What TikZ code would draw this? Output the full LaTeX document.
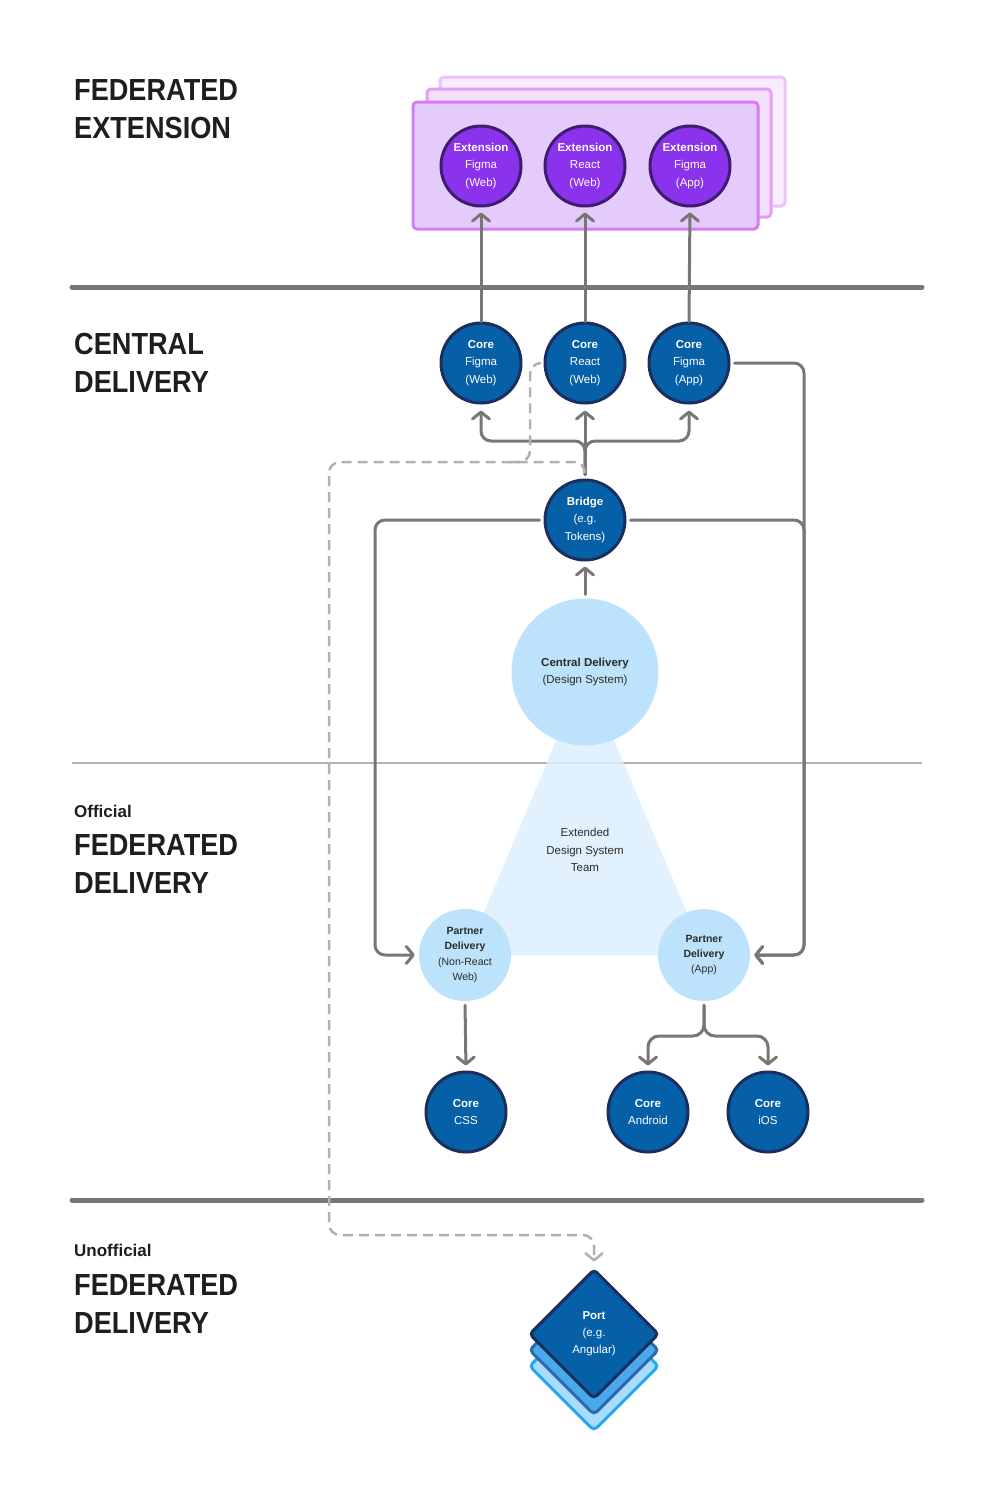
\documentclass[tikz,border=0pt]{standalone}
\usepackage{fontspec}
\setmainfont{Liberation Sans}
\newfontfamily\headfont[FakeStretch=0.89]{Liberation Sans}
\usetikzlibrary{arrows.meta,shapes.geometric,calc}
\definecolor{lgray}{HTML}{777777}
\definecolor{septhin}{HTML}{B3B3B3}
\definecolor{dgray}{HTML}{B0B0B0}
\definecolor{headc}{HTML}{1E1E1E}
\definecolor{txtdark}{HTML}{2B2B2B}
\definecolor{coreblue}{HTML}{0660A8}
\definecolor{corenavy}{HTML}{1B2F5E}
\definecolor{extfill}{HTML}{8B32EC}
\definecolor{extdraw}{HTML}{3F1D6E}
\definecolor{pfrontF}{HTML}{E5CBFC}
\definecolor{pfrontD}{HTML}{D67DF1}
\definecolor{pmidF}{HTML}{F0E0FD}
\definecolor{pmidD}{HTML}{E49CF7}
\definecolor{pbackF}{HTML}{F7EDFE}
\definecolor{pbackD}{HTML}{ECC0FA}
\definecolor{lblue}{HTML}{BDE3FC}
\definecolor{tri}{HTML}{DCEFFE}
\definecolor{midF}{HTML}{4AA8EC}
\definecolor{midD}{HTML}{2C6AA8}
\definecolor{backF}{HTML}{A8DBFD}
\definecolor{backD}{HTML}{20A8F0}
\begin{document}
\begin{tikzpicture}[x=1pt,y=-1pt,
  bighead/.style={anchor=base west, inner sep=0pt, text=headc, font=\headfont\bfseries\fontsize{30.5}{38}\selectfont},
  smallhead/.style={anchor=base west, inner sep=0pt, text=headc, font=\bfseries\fontsize{17}{20}\selectfont},
  septhick/.style={draw=lgray, line width=5pt, line cap=round},
  sepline/.style={draw=septhin, line width=2pt},
  line/.style={draw=lgray, line width=3pt, line cap=round, line join=round},
  arr/.style={line, -{Straight Barb[length=7pt,width=17pt,round]}},
  dashline/.style={draw=dgray, line width=2.5pt, dash pattern=on 10pt off 6pt, rounded corners=11pt},
  core/.style={circle, minimum size=80pt, inner sep=0pt, fill=coreblue, draw=corenavy, line width=3pt, text=white, align=center, font=\fontsize{11.5}{17.5}\selectfont},
  ext/.style={core, fill=extfill, draw=extdraw},
  lcirc/.style={circle, inner sep=0pt, fill=lblue, text=txtdark, align=center},
  pcirc/.style={lcirc, minimum size=92pt, font=\fontsize{10.5}{15.3}\selectfont},
  dia/.style={diamond, aspect=1, minimum width=130pt, minimum height=130pt, inner sep=0pt, rounded corners=4pt, line width=3pt}
]
\useasboundingbox (0,0) rectangle (994,1500);

% separators
\draw[septhick] (72,287) -- (922,287);
\draw[sepline] (72,763) -- (922,763);
\draw[septhick] (72,1200) -- (922,1200);

% headings
\node[bighead] (h1a) at (74,100) {FEDERATED};
\node[bighead] (h1b) at (74,138) {EXTENSION};
\node[bighead] (h2a) at (74,354) {CENTRAL};
\node[bighead] (h2b) at (74,392) {DELIVERY};
\node[smallhead] (h3s) at (74,817) {Official};
\node[bighead] (h3a) at (74,855) {FEDERATED};
\node[bighead] (h3b) at (74,893) {DELIVERY};
\node[smallhead] (h4s) at (74,1256) {Unofficial};
\node[bighead] (h4a) at (74,1295) {FEDERATED};
\node[bighead] (h4b) at (74,1333) {DELIVERY};

% purple stack
\draw[fill=pbackF, draw=pbackD, line width=3pt, rounded corners=4pt] (440,77) rectangle (785,206);
\draw[fill=pmidF, draw=pmidD, line width=3pt, rounded corners=4pt] (427,89) rectangle (771,217);
\draw[fill=pfrontF, draw=pfrontD, line width=3pt, rounded corners=4pt] (413,102) rectangle (758,229);

% extended team triangle
\fill[tri, opacity=0.85] (585,672) -- (705,955) -- (466,955) -- cycle;
\node[align=center, text=txtdark, font=\fontsize{11.5}{17.2}\selectfont] (team) at (585,850) {Extended\\Design System\\Team};

% nodes
\node[ext] (ext1) at (481,166) {\textbf{Extension}\\Figma\\(Web)};
\node[ext] (ext2) at (585,166) {\textbf{Extension}\\React\\(Web)};
\node[ext] (ext3) at (690,166) {\textbf{Extension}\\Figma\\(App)};
\node[core] (core1) at (481,363) {\textbf{Core}\\Figma\\(Web)};
\node[core] (core2) at (585,363) {\textbf{Core}\\React\\(Web)};
\node[core] (core3) at (689,363) {\textbf{Core}\\Figma\\(App)};
\node[core] (bridge) at (585,520) {\textbf{Bridge}\\(e.g.\\Tokens)};
\node[lcirc, minimum size=147pt, font=\fontsize{11.5}{17.2}\selectfont] (cd) at (585,672) {\textbf{Central Delivery}\\(Design System)};
\node[pcirc] (pd1) at (465,955) {\textbf{Partner}\\\textbf{Delivery}\\(Non-React\\Web)};
\node[pcirc] (pd2) at (704,955) {\textbf{Partner}\\\textbf{Delivery}\\(App)};
\node[core] (css) at (466,1112) {\textbf{Core}\\CSS};
\node[core] (android) at (648,1112) {\textbf{Core}\\Android};
\node[core] (ios) at (768,1112) {\textbf{Core}\\iOS};

% port stack
\node[dia, fill=backF, draw=backD] (port3) at (594,1366) {};
\node[dia, fill=midF, draw=midD] (port2) at (594,1350) {};
\node[dia, fill=coreblue, draw=corenavy, text=white, align=center, font=\fontsize{11.5}{17.2}\selectfont] (port) at (594,1334) {\textbf{Port}\\(e.g.\\Angular)};

% connectors core -> extension
\draw[arr, shorten >=5pt] (core1.north) -- (ext1.south);
\draw[arr, shorten >=5pt] (core2.north) -- (ext2.south);
\draw[arr, shorten >=5pt] (core3.north) -- (ext3.south);

% bridge -> cores
\draw[arr, rounded corners=10pt, shorten <=4pt, shorten >=6pt] (bridge.north) -- (585,441) -- (481,441) -- (core1.south);
\draw[arr, shorten <=4pt, shorten >=6pt] (bridge.north) -- (core2.south);
\draw[arr, rounded corners=10pt, shorten <=4pt, shorten >=6pt] (bridge.north) -- (585,441) -- (689,441) -- (core3.south);

% central delivery -> bridge
\draw[arr, shorten <=4pt, shorten >=5pt] (cd.north) -- (bridge.south);

% bridge -> partner non-react
\draw[arr, rounded corners=10pt, shorten <=4pt, shorten >=4pt] (bridge.west) -| (375,955) -- (pd1.west);
% core figma app -> partner app
\draw[arr, rounded corners=10pt, shorten <=4pt, shorten >=4pt] (core3.east) -| (804,955) -- (pd2.east);
% bridge -> partner app (joins the right trunk)
\draw[arr, rounded corners=10pt, shorten <=4pt, shorten >=4pt] (bridge.east) -| (804,955) -- (pd2.east);

% partner -> cores
\draw[arr, shorten <=4pt, shorten >=5pt] (pd1.south) -- (css.north);
\draw[arr, rounded corners=11pt, shorten <=4pt, shorten >=5pt] (pd2.south) -- (704,1036) -| (android.north);
\draw[arr, rounded corners=11pt, shorten <=4pt, shorten >=5pt] (pd2.south) -- (704,1036) -| (ios.north);

% dashed paths to port
\draw[dashline, -{Straight Barb[length=7pt,width=17pt,round]}, shorten <=6pt, shorten >=6pt] (bridge.north) -- (585,462) -- (329,462) -- (329,1235) -- (594,1235) -- (port.north);
\draw[dashline, shorten <=4pt] (core2.west) -- (530,363) -- (530,462) -- (505,462);
\end{tikzpicture}
\end{document}
